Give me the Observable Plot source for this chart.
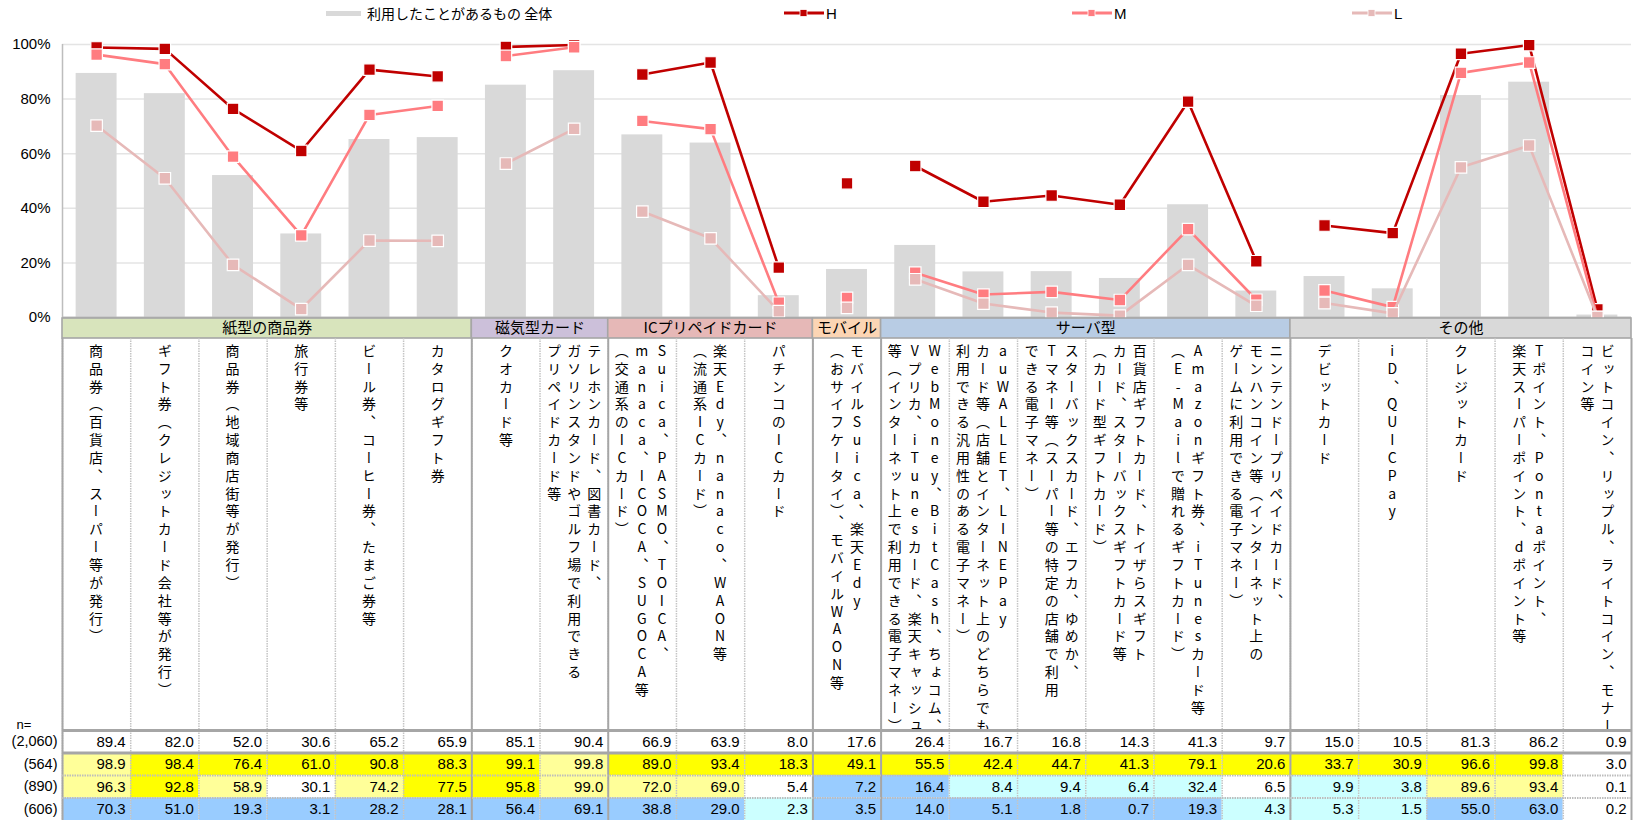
<!DOCTYPE html>
<html><head><meta charset="utf-8">
<script src="https://cdn.jsdelivr.net/npm/d3@7"></script>
<script src="https://cdn.jsdelivr.net/npm/@observablehq/plot@0.6"></script>
<style>
body{margin:0;background:#fff;}
#wrap{position:relative;width:1640px;height:820px;overflow:hidden;font-family:"Noto Sans CJK JP",sans-serif;color:#000;}
#wrap svg.plot{position:absolute;left:0;}
.leg{position:absolute;top:4px;height:18px;display:flex;align-items:center;font-size:14px;white-space:nowrap;}
</style></head><body><div id="wrap"></div>
<script>
// ---------- data ----------
const labelLines = [
 ["商品券（百貨店、スーパー等が発行）"],
 ["ギフト券（クレジットカード会社等が発行）"],
 ["商品券（地域商店街等が発行）"],
 ["旅行券等"],
 ["ビール券、コーヒー券、たまご券等"],
 ["カタログギフト券"],
 ["クオカード等"],
 ["テレホンカード、図書カード、","ガソリンスタンドやゴルフ場で利用できる","プリペイドカード等"],
 ["Suica、PASMO、TOICA、","manaca、ICOCA、SUGOCA等","（交通系のICカード）"],
 ["楽天Edy、nanaco、WAON等","（流通系ICカード）"],
 ["パチンコのICカード"],
 ["モバイルSuica、楽天Edy","（おサイフケータイ）、モバイルWAON等"],
 ["WebMoney、BitCash、ちょコム、","Vプリカ、iTunesカード、楽天キャッシュ","等（インターネット上で利用できる電子マネー）"],
 ["auWALLET、LINEPay","カード等（店舗とインターネット上のどちらでも","利用できる汎用性のある電子マネー）"],
 ["スターバックスカード、エフカ、ゆめか、","Tマネー等（スーパー等の特定の店舗で利用","できる電子マネー）"],
 ["百貨店ギフトカード、トイザらスギフト","カード、スターバックスギフトカード等","（カード型ギフトカード）"],
 ["Amazonギフト券、iTunesカード等","（E-Mailで贈れるギフトカード）"],
 ["ニンテンドープリペイドカード、","モンハンコイン等（インターネット上の","ゲームに利用できる電子マネー）"],
 ["デビットカード"],
 ["iD、QUICPay"],
 ["クレジットカード"],
 ["Tポイント、Pontaポイント、","楽天スーパーポイント、dポイント等"],
 ["ビットコイン、リップル、ライトコイン、モナー","コイン等"]
];
const groupNames = ["紙型の商品券","磁気型カード","ICプリペイドカード","モバイル","サーバ型","その他"];
const groupSizes = [6,2,3,1,6,5];
const groupColors = ["#d8e4bc","#ccc0da","#e6b8b7","#fcd5b4","#b8cce4","#d9d9d9"];
const totalValues = [89.4,82.0,52.0,30.6,65.2,65.9,85.1,90.4,66.9,63.9,8.0,17.6,26.4,16.7,16.8,14.3,41.3,9.7,15.0,10.5,81.3,86.2,0.9];
const hValues = [98.9,98.4,76.4,61.0,90.8,88.3,99.1,99.8,89.0,93.4,18.3,49.1,55.5,42.4,44.7,41.3,79.1,20.6,33.7,30.9,96.6,99.8,3.0];
const mValues = [96.3,92.8,58.9,30.1,74.2,77.5,95.8,99.0,72.0,69.0,5.4,7.2,16.4,8.4,9.4,6.4,32.4,6.5,9.9,3.8,89.6,93.4,0.1];
const lValues = [70.3,51.0,19.3,3.1,28.2,28.1,56.4,69.1,38.8,29.0,2.3,3.5,14.0,5.1,1.8,0.7,19.3,4.3,5.3,1.5,55.0,63.0,0.2];
// significance codes: ++ much higher, + higher, 0 none, - lower, -- much lower
const hSig = ["+","++","++","++","++","++","++","+","++","++","++","++","++","++","++","++","++","++","++","++","++","++","0"];
const mSig = ["+","++","+","0","+","++","++","+","+","+","0","--","--","-","-","-","-","0","-","-","+","+","0"];
const lSig = ["--","--","--","--","--","--","--","--","--","--","-","--","--","--","--","--","--","-","-","-","--","--","0"];
const rowNames = ["全体","H","M","L"];
const sampleSizes = ["(2,060)","(564)","(890)","(606)"];
const yTicks = [0,20,40,60,80,100];
const seriesNames = ["H","M","L"];
const seriesColors = ["#c00000","#ff7c80","#e6b9b8"];
const barLegend = "利用したことがあるもの 全体";

// ---------- derived ----------
const categories = labelLines.map(l => l.join(""));
const groupOf = [];
groupNames.forEach((g,i) => { for (let k=0;k<groupSizes[i];k++) groupOf.push(g); });
let s0 = 0;
const groups = groupNames.map((name,i) => { const g = {name, start: s0, end: s0 + groupSizes[i]}; s0 += groupSizes[i]; return g; });
const groupStarts = groups.map(g => categories[g.start]);
const lastCat = categories[categories.length-1];
const seriesValues = {H: hValues, M: mValues, L: lValues};
const sigs = {"全体": categories.map(() => "0"), H: hSig, M: mSig, L: lSig};
const rowsAll = {"全体": totalValues, H: hValues, M: mValues, L: lValues};

const W = 1640, ML = 62, MR = 9;
const bw = (W - ML - MR) / categories.length;
const FONT = "'Liberation Sans', 'Noto Sans CJK JP', sans-serif";
const JFONT = "'Noto Sans CJK JP', sans-serif";
const wrap = document.getElementById("wrap");
function place(svg, top) { svg.classList.add("plot"); svg.style.top = top + "px"; wrap.appendChild(svg); return svg; }

// ---------- legend ----------
function legendItem(left, html) { const d = document.createElement("div"); d.className = "leg"; d.style.left = left + "px"; d.innerHTML = html; wrap.appendChild(d); }
legendItem(326, `<span style="display:inline-block;width:35px;height:5px;background:#d9d9d9;margin-right:6px"></span><span>${barLegend}</span>`);
const legLeft = [784, 1072, 1352];
seriesNames.forEach((n,i) => {
  const c = seriesColors[i];
  legendItem(legLeft[i], `<svg width="40" height="10" style="margin-right:2px"><line x1="0" x2="40" y1="5" y2="5" stroke="${c}" stroke-width="3"/><rect x="16" y="1.5" width="7" height="7" fill="${c}" stroke="#fff" stroke-width="0.8"/></svg><span style="font-family:${FONT};font-size:15px">${n}</span>`);
});

// ---------- chart ----------
const chartRows = categories.map((cat,i) => ({cat, group: groupOf[i], total: totalValues[i]}));
const seriesMarks = [];
seriesNames.forEach((n,si) => {
  const data = categories.map((cat,i) => ({cat, group: groupOf[i], v: seriesValues[n][i]}));
  seriesMarks.push(Plot.line(data, {x: "cat", y: "v", z: "group", stroke: seriesColors[si], strokeWidth: 2.6}));
  seriesMarks.push(Plot.dot(data, {x: "cat", y: "v", symbol: "square", r: 6.5, fill: seriesColors[si], stroke: "#fff", strokeWidth: 1.2}));
});
const chart = Plot.plot({
  width: W, height: 319, marginTop: 44, marginBottom: 2, marginLeft: ML, marginRight: MR,
  x: {type: "band", domain: categories, paddingInner: 0.4, paddingOuter: 0.2, round: false, axis: null},
  y: {domain: [0,100], axis: null},
  style: {fontFamily: FONT, fontSize: "15px", background: "transparent", color: "#000", overflow: "visible"},
  marks: [
    Plot.ruleY(yTicks.filter(d => d > 0), {stroke: "#e4e4e4", strokeWidth: 1.5}),
    Plot.axisY(yTicks, {tickSize: 0, tickPadding: 12, tickFormat: d => d + "%", fontSize: 15, fill: "#000"}),
    Plot.barY(chartRows, {x: "cat", y: "total", fill: "#d9d9d9"}),
    Plot.ruleY([0], {stroke: "#bdbdbd", strokeWidth: 2}),
    Plot.ruleX([categories[0]], {y1: 0, y2: 100, dx: -bw/2, stroke: "#bdbdbd", strokeWidth: 1.5}),
    ...seriesMarks
  ]
});
place(chart, 0);

// ---------- group band ----------
const band = Plot.plot({
  width: W, height: 22, marginTop: 1, marginBottom: 1, marginLeft: ML, marginRight: MR,
  x: {domain: [0, categories.length], axis: null},
  color: {domain: groupNames, range: groupColors},
  style: {fontFamily: JFONT, fontSize: "15px", background: "transparent", color: "#000", overflow: "visible"},
  marks: [
    Plot.rect(groups, {x1: "start", x2: "end", fill: "name", stroke: "#a6a6a6", strokeWidth: 1.6}),
    Plot.text(groups, {x: d => (d.start + d.end) / 2, text: "name", frameAnchor: "middle", fontSize: 15, fill: "#000"})
  ]
});
place(band, 317);

// ---------- category labels ----------
const lineData = [];
labelLines.forEach((lines, ci) => {
  lines.forEach((t, li) => lineData.push({cat: categories[ci], text: t, slot: (lines.length - 1) / 2 - li}));
});
const slots = [...new Set(lineData.map(d => d.slot))];
const labelsPlot = Plot.plot({
  width: W, height: 392, marginTop: 0, marginBottom: 0, marginLeft: ML, marginRight: MR,
  x: {type: "band", domain: categories, padding: 0, round: false, axis: null},
  style: {fontFamily: JFONT, fontSize: "14px", background: "transparent", color: "#000", overflow: "visible"},
  marks: [
    Plot.ruleX(categories, {dx: -bw/2, stroke: "#c4c4c4", strokeWidth: 1.5, strokeDasharray: "1.5,1"}),
    Plot.ruleX(groupStarts, {dx: -bw/2, stroke: "#a6a6a6", strokeWidth: 2}),
    Plot.ruleX([lastCat], {dx: bw/2, stroke: "#a6a6a6", strokeWidth: 2}),
    ...slots.map(s => Plot.text(lineData.filter(d => d.slot === s), {x: "cat", text: "text", frameAnchor: "top", lineAnchor: "bottom", textAnchor: "start", dx: s * 20, dy: 5, fontSize: 14, fill: "#000"})),
    Plot.text(["n="], {frameAnchor: "bottom-left", textAnchor: "start", lineAnchor: "bottom", dx: -46, dy: -2, fontSize: 13, fontFamily: FONT})
  ]
});
d3.select(labelsPlot).selectAll("text").filter(function() { return this.textContent !== "n="; })
  .attr("y", null)
  .style("writing-mode", "vertical-rl")
  .style("text-orientation", "upright")
  .style("letter-spacing", "3.85px");
place(labelsPlot, 338);
// centre each vertical line of text on its intended position
{
  const xs = labelsPlot.scale("x");
  const textGroups = labelsPlot.querySelectorAll('g[aria-label="text"]');
  const svgLeft = labelsPlot.getBoundingClientRect().left;
  slots.forEach((s, k) => {
    const dataK = lineData.filter(d => d.slot === s);
    textGroups[k].querySelectorAll("text").forEach((t, i) => {
      const want = xs.apply(dataK[i].cat) + (xs.bandwidth || 0) / 2 + s * 20;
      const r = t.getBoundingClientRect();
      const have = r.left + r.width / 2 - svgLeft;
      const delta = want - have;
      if (Math.abs(delta) > 0.5 && Math.abs(delta) < 15) {
        const prev = t.getAttribute("transform") || "";
        t.setAttribute("transform", `translate(${delta.toFixed(2)},0) ${prev}`);
      }
    });
  });
}

// ---------- table ----------
const tableRows = [];
rowNames.forEach(r => categories.forEach((cat,i) => tableRows.push({cat, row: r, value: rowsAll[r][i], sig: sigs[r][i]})));
const rowInfo = rowNames.map((r,i) => ({row: r, n: sampleSizes[i]}));
const bh = 90 / rowNames.length;
const table = Plot.plot({
  width: W, height: 90, marginTop: 0, marginBottom: 0, marginLeft: ML, marginRight: MR,
  x: {type: "band", domain: categories, padding: 0, round: false, axis: null},
  y: {type: "band", domain: rowNames, padding: 0, round: false, axis: null},
  color: {domain: ["++","+","0","-","--"], range: ["#ffff00","#ffff99","#ffffff","#ccffff","#99ccff"]},
  style: {fontFamily: FONT, fontSize: "15px", background: "transparent", color: "#000", overflow: "visible"},
  marks: [
    Plot.cell(tableRows, {x: "cat", y: "row", fill: "sig"}),
    Plot.ruleX(categories, {dx: -bw/2, stroke: "#c4c4c4", strokeWidth: 1.5, strokeDasharray: "1.5,1"}),
    Plot.ruleX(groupStarts, {dx: -bw/2, stroke: "#a6a6a6", strokeWidth: 2}),
    Plot.ruleX([lastCat], {dx: bw/2, stroke: "#a6a6a6", strokeWidth: 2}),
    Plot.ruleY(["全体","H"], {dy: -bh/2, stroke: "#a6a6a6", strokeWidth: 3}),
    Plot.ruleY(["M","L"], {dy: -bh/2, stroke: "#bdbdbd", strokeWidth: 2, strokeDasharray: "1.5,1"}),
    Plot.text(tableRows, {x: "cat", y: "row", text: d => d.value.toFixed(1), textAnchor: "end", dx: bw/2 - 5, fontSize: 15, fill: "#000"}),
    Plot.text(rowInfo, {y: "row", text: "n", frameAnchor: "left", textAnchor: "end", dx: -5, fontSize: 14.5, fill: "#000"})
  ]
});
place(table, 730);
</script></body></html>
